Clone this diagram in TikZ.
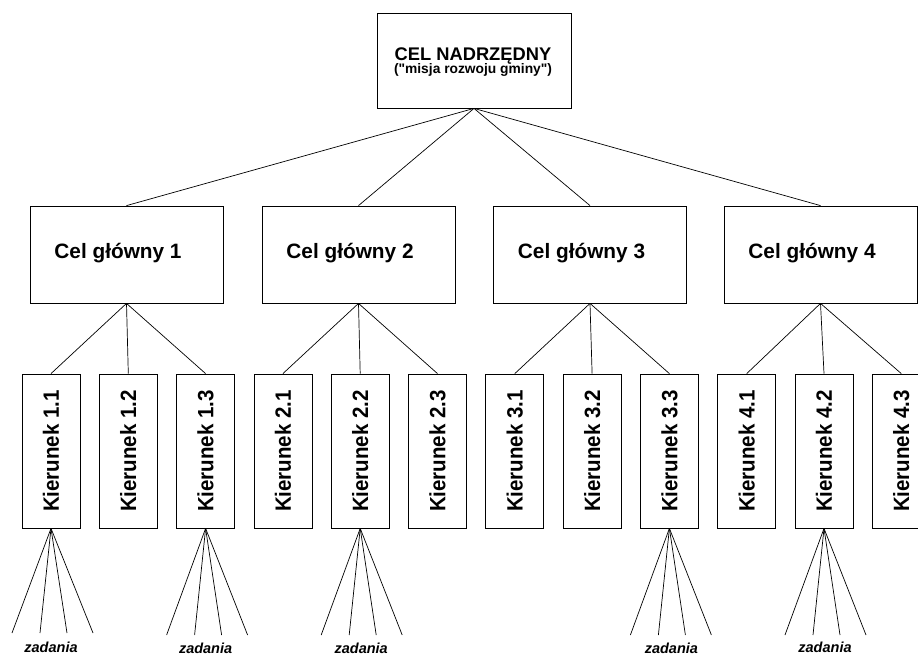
\documentclass[tikz,border=0pt]{standalone}
\usepackage{fontspec}
\setmainfont{Liberation Sans}
\begin{document}
\begin{tikzpicture}[x=1pt,y=-1pt,
  every node/.style={font=\bfseries},
  line/.style={draw=black,line width=0.8pt},
  topbox/.style={line,minimum width=194pt,minimum height=95pt,inner sep=0pt},
  celbox/.style={line,minimum width=193pt,minimum height=97pt,inner sep=0pt},
  kier/.style={line,minimum width=58pt,minimum height=154pt,inner sep=0pt,font=\bfseries\fontsize{20.5}{22}\selectfont},
  zad/.style={font=\bfseries\itshape\fontsize{14.5}{16}\selectfont,inner sep=0pt},
  conn/.style={line width=0.7pt}]
\useasboundingbox (0,0) rectangle (918,656);
\clip (0,0) rectangle (918,656);
% top
\node[topbox,align=center] (top) at (474,60.5) {};
\node[align=center,inner sep=0pt] (toptxt) at (473,62) {{\fontsize{18.3}{21}\selectfont CEL NADRZĘDNY}\\[-1pt]{\fontsize{13.8}{16}\selectfont (\textquotedbl misja rozwoju gminy\textquotedbl)}};
% main goals
\foreach \i/\x in {1/126.5,2/358.5,3/590,4/820.5}{
  \node[celbox] (c\i) at (\x,254.5) {};
  \node[inner sep=0pt,font=\bfseries\fontsize{20.8}{23}\selectfont] (c\i t) at (\x-8.5,253) {Cel główny \i};
  \draw[conn] (top.south) -- (c\i.north);
}
% directions
\foreach \i in {1,2,3,4}{
  \foreach \j in {1,2,3}{
    \pgfmathsetmacro\kx{51+77.3*((\i-1)*3+\j-1)}
    \node[kier] (k\i\j) at (\kx,451) {\rotatebox{90}{\scalebox{1}[1.08]{Kierunek \i.\j}}};
    \draw[conn] (c\i.south) -- (k\i\j.north);
  }
}
% task fans
\foreach \k/\yy in {k11/633,k13/635,k22/635,k33/635,k42/635}{
  \foreach \d [count=\n] in {-39,-11,16,42}{
    \coordinate (\k f\n) at ([xshift=\d pt]\k.south |- 0,\yy);
    \draw[conn] (\k.south) -- (\k f\n);
  }
}
\node[zad] (z1) at ([xshift=0pt]k11.south |- 0,647.5) {zadania};
\node[zad] (z2) at ([xshift=0pt]k13.south |- 0,648) {zadania};
\node[zad] (z3) at ([xshift=1pt]k22.south |- 0,648) {zadania};
\node[zad] (z4) at ([xshift=2pt]k33.south |- 0,648) {zadania};
\node[zad] (z5) at ([xshift=1pt]k42.south |- 0,647.5) {zadania};
\end{tikzpicture}
\end{document}
